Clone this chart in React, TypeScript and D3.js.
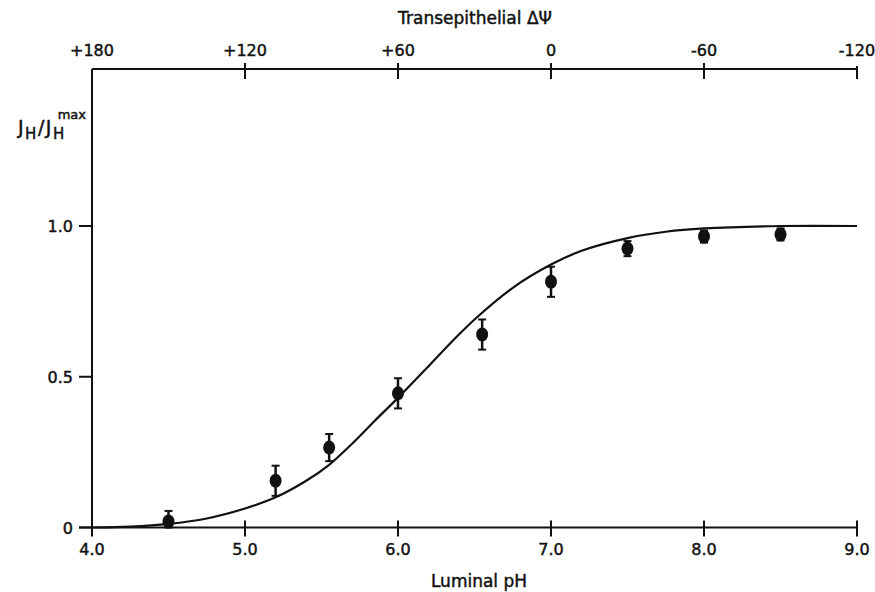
import React from "react";
import * as d3 from "d3";

// Measured proton flux (normalised) vs luminal pH
const phValues = [4.5, 5.2, 5.55, 6.0, 6.55, 7.0, 7.5, 8.0, 8.5];
const fluxRatio = [0.02, 0.155, 0.265, 0.445, 0.64, 0.815, 0.925, 0.965, 0.972];
const fluxErr = [0.035, 0.05, 0.045, 0.05, 0.05, 0.05, 0.025, 0.02, 0.02];

// Fitted curve, sampled along pH
const curvePH = [4.0, 4.25, 4.5, 4.75, 5.0, 5.2, 5.4, 5.55, 5.7, 5.85, 6.0, 6.2, 6.35, 6.5, 6.75, 7.0, 7.2, 7.5, 7.75, 8.0, 8.5, 9.0];
const curveFlux = [0.0, 0.003, 0.012, 0.03, 0.063, 0.1, 0.155, 0.208, 0.278, 0.355, 0.43, 0.535, 0.615, 0.69, 0.795, 0.872, 0.918, 0.96, 0.981, 0.992, 1.0, 1.0];

// Axis ticks
const pHTicks = [4.0, 5.0, 6.0, 7.0, 8.0, 9.0];
const pHTickLabels = ["4.0", "5.0", "6.0", "7.0", "8.0", "9.0"];
const psiTicks = [180, 120, 60, 0, -60, -120];
const psiTickLabels = ["+180", "+120", "+60", "0", "-60", "-120"];
const fluxTicks = [0, 0.5, 1.0];
const fluxTickLabels = ["0", "0.5", "1.0"];

const W = 875;
const H = 592;
const left = 92;
const right = 857;
const top = 69;
const bottom = 527.5;

export default function App() {
  const x = d3.scaleLinear().domain([4, 9]).range([left, right]);
  const xPsi = d3.scaleLinear().domain([180, -120]).range([left, right]);
  const y = d3.scaleLinear().domain([0, 1]).range([bottom, 226]);

  const line = d3
    .line<number>()
    .x((_, i) => x(curvePH[i]))
    .y((d) => y(d))
    .curve(d3.curveCatmullRom.alpha(0.5));

  const font = "'DejaVu Sans', 'Noto Sans', sans-serif";
  const ink = "#111";
  // slightly heavier lettering
  const textStyle = { stroke: ink, strokeWidth: 0.45, paintOrder: "stroke" as const };

  return (
    <svg
      width={W}
      height={H}
      style={{ position: "absolute", left: 0, top: 0, background: "#fff" }}
      fontFamily={font}
    >
      {/* top ΔΨ axis */}
      <line x1={left} x2={right} y1={top} y2={top} stroke={ink} strokeWidth={2} />
      {psiTicks.map((t, i) => (
        <g key={"p" + i}>
          {i > 0 && (
            <line
              x1={xPsi(t)}
              x2={xPsi(t)}
              y1={i === psiTicks.length - 1 ? top - 3 : top - 6}
              y2={top + 10}
              stroke={ink}
              strokeWidth={2}
            />
          )}
          <text x={xPsi(t)} y={56} textAnchor="middle" fontSize={16} fill={ink} style={textStyle}>
            {psiTickLabels[i]}
          </text>
        </g>
      ))}
      <text x={475} y={24} textAnchor="middle" fontSize={17} fill={ink} style={textStyle}>
        Transepithelial ΔΨ
      </text>

      {/* left axis */}
      <line x1={left} x2={left} y1={top} y2={bottom} stroke={ink} strokeWidth={2} />
      {fluxTicks.map((t, i) => (
        <g key={"f" + i}>
          <line x1={left - 13} x2={left} y1={y(t)} y2={y(t)} stroke={ink} strokeWidth={2} />
          <text x={73} y={y(t) + 6} textAnchor="end" fontSize={16} fill={ink} style={textStyle}>
            {fluxTickLabels[i]}
          </text>
        </g>
      ))}
      <text x={18} y={134} fontSize={19} letterSpacing={1.5} fill={ink} style={textStyle}>
        J
        <tspan fontSize={15} dy={5}>H</tspan>
        <tspan dy={-5}>/J</tspan>
        <tspan fontSize={15} dy={5}>H</tspan>
      </text>
      <text x={86} y={119} textAnchor="end" fontSize={13} fill={ink} style={textStyle}>
        max
      </text>

      {/* bottom pH axis */}
      <line x1={left - 13} x2={right} y1={bottom} y2={bottom} stroke={ink} strokeWidth={2} />
      {pHTicks.map((t, i) => (
        <g key={"x" + i}>
          <line x1={x(t)} x2={x(t)} y1={bottom - 7} y2={bottom + 9} stroke={ink} strokeWidth={2} />
          <text x={x(t)} y={555} textAnchor="middle" fontSize={16} fill={ink} style={textStyle}>
            {pHTickLabels[i]}
          </text>
        </g>
      ))}
      <text x={479} y={587} textAnchor="middle" fontSize={17} fill={ink} style={textStyle}>
        Luminal pH
      </text>

      {/* fitted curve */}
      <path d={line(curveFlux) || ""} fill="none" stroke={ink} strokeWidth={2.2} />

      {/* data with error bars */}
      {phValues.map((p, i) => {
        const cx = x(p);
        const yTop = y(fluxRatio[i] + fluxErr[i]);
        const yBot = y(Math.max(0, fluxRatio[i] - fluxErr[i]));
        return (
          <g key={"d" + i}>
            <line x1={cx} x2={cx} y1={yTop} y2={yBot} stroke={ink} strokeWidth={2.5} />
            <line x1={cx - 4} x2={cx + 4} y1={yTop} y2={yTop} stroke={ink} strokeWidth={2} />
            <line x1={cx - 4} x2={cx + 4} y1={yBot} y2={yBot} stroke={ink} strokeWidth={2} />
            <ellipse cx={cx} cy={y(fluxRatio[i])} rx={6} ry={7} fill={ink} />
          </g>
        );
      })}
    </svg>
  );
}
